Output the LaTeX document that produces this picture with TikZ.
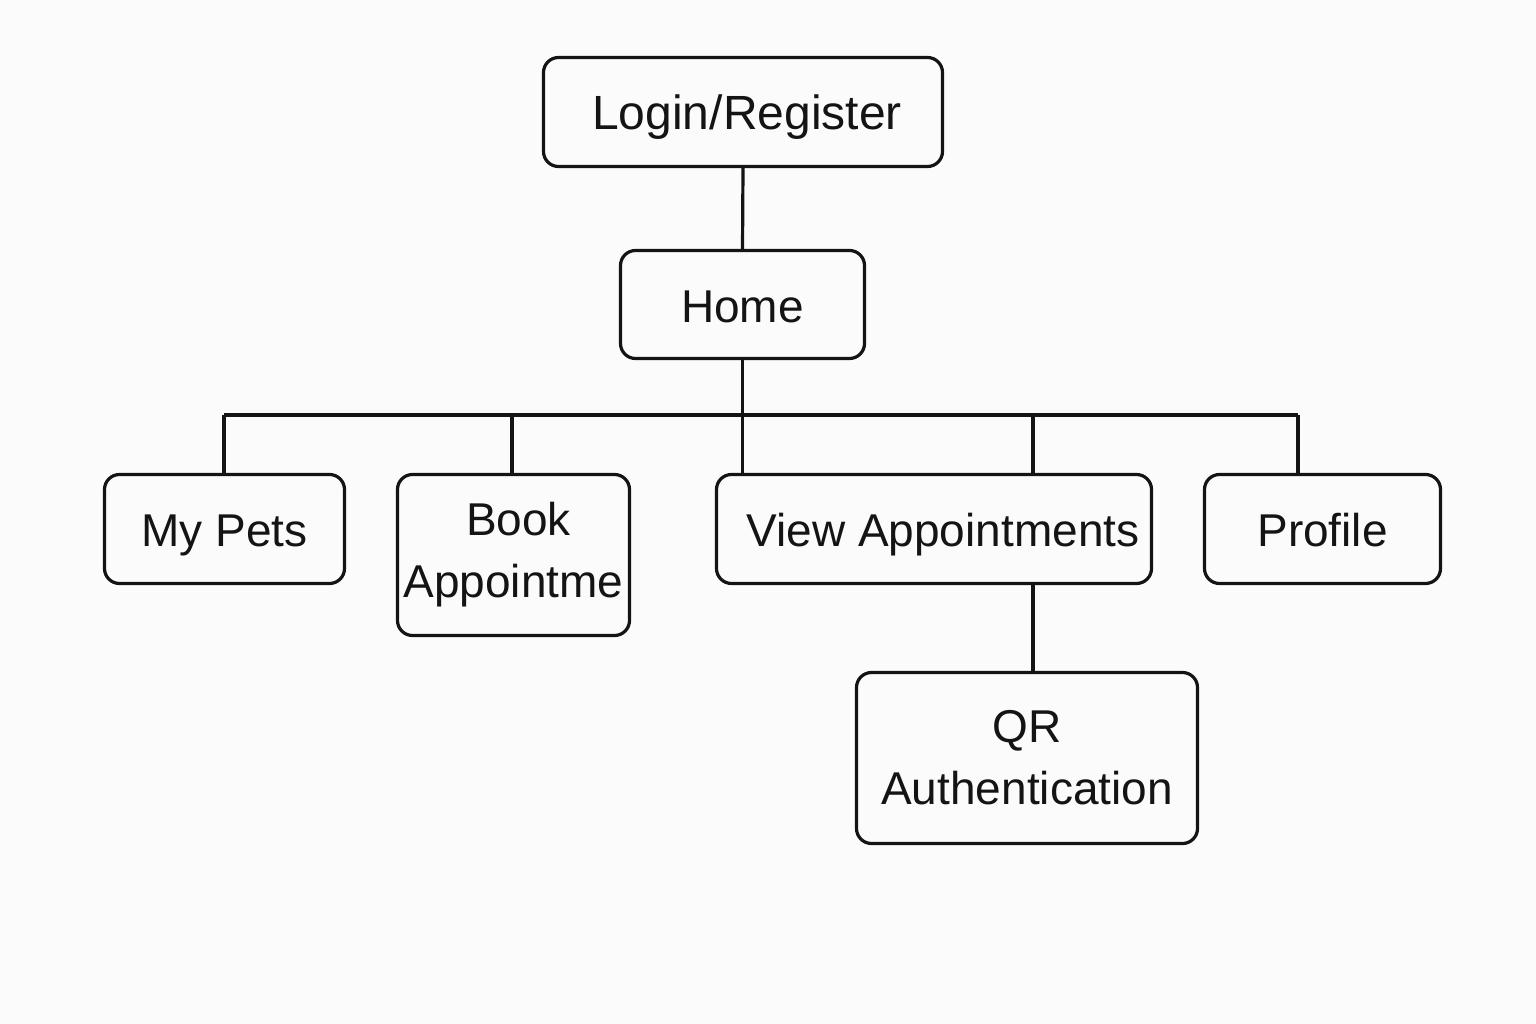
\documentclass[tikz,border=0pt]{standalone}
\usepackage{fontspec}
\setmainfont{Liberation Sans}
\definecolor{bgc}{RGB}{251,251,251}
\definecolor{ink}{RGB}{20,20,20}
\begin{document}
\begin{tikzpicture}[x=1pt,y=-1pt,
  box/.style={draw=ink,line width=3.2pt,rounded corners=15pt,fill=bgc,inner sep=0pt,align=center,
    font=\fontsize{46}{62}\selectfont,text=ink},
  oneline/.style={text height=35pt,text depth=0pt},
  link/.style={draw=ink,line width=3.2pt}]
\fill[bgc] (0,0) rectangle (1536,1024);
\useasboundingbox (0,0) rectangle (1536,1024);
\node[box,oneline,minimum width=399pt,minimum height=109pt,font=\fontsize{48}{62}\selectfont] (login) at (743,112) {\hspace*{8pt}Login/Register};
\node[box,oneline,minimum width=244pt,minimum height=108pt] (home) at (742.5,304.5) {Home};
\node[box,oneline,minimum width=240pt,minimum height=109pt] (mypets) at (224.5,529) {My Pets};
\node[box,minimum width=232pt,minimum height=161pt] (book) at (513.5,555) {\hspace*{10pt}Book\\Appointme};
\node[box,oneline,minimum width=435pt,minimum height=109pt] (view) at (934,529) {\hspace*{18pt}View Appointments};
\node[box,oneline,minimum width=236pt,minimum height=109pt] (profile) at (1322.5,529) {Profile};
\node[box,minimum width=341pt,minimum height=171pt] (qr) at (1027,758) {QR\\Authentication};
\coordinate (bL) at (224,415);
\coordinate (bB) at (512,415);
\coordinate (bV) at (1033,415);
\coordinate (bR) at (1298,415);
\draw[link] (login.south) -- (home.north);
\draw[link] (home.south) -- (home.south |- view.north);
\draw[link] (bL) -- (bR);
\draw[link] (bL) -- (bL |- mypets.north);
\draw[link] (bB) -- (bB |- book.north);
\draw[link] (bV) -- (bV |- view.north);
\draw[link] (bR) -- (bR |- profile.north);
\draw[link] (bV |- view.south) -- (bV |- qr.north);
\end{tikzpicture}
\end{document}
